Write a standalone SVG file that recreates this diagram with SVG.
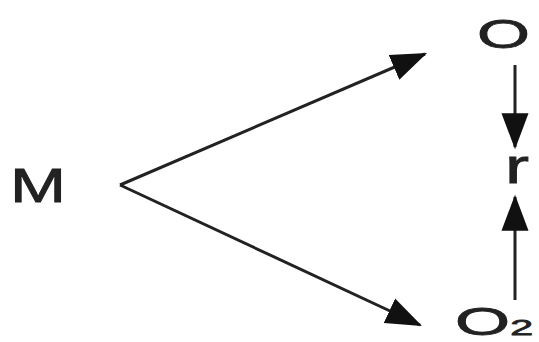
<svg xmlns="http://www.w3.org/2000/svg" width="539" height="342" viewBox="0 0 539 342">
<style>
.lbl{font-family:"Liberation Sans",Arial,sans-serif;fill:#222;stroke:#222;stroke-width:0.8}
.edge{stroke:#222;stroke-width:3;fill:none}
</style>
<defs>
<marker id="ah" markerUnits="userSpaceOnUse" markerWidth="36" markerHeight="36" refX="30" refY="12" orient="auto" viewBox="0 0 32 24">
<path d="M0,0 L32,12 L0,24 Z" fill="#111"/>
</marker>
</defs>
<rect width="539" height="342" fill="#fff"/>
<g id="connectors">
<line class="edge" x1="120" y1="185" x2="425" y2="54" marker-end="url(#ah)"/>
<line class="edge" x1="120" y1="185" x2="420" y2="325" marker-end="url(#ah)"/>
<line class="edge" x1="515" y1="65" x2="515" y2="147" marker-end="url(#ah)"/>
<line class="edge" x1="515" y1="300" x2="515" y2="197" marker-end="url(#ah)"/>
</g>
<g id="node-M"><text class="lbl" x="10" y="202" font-size="48" textLength="56" lengthAdjust="spacingAndGlyphs">M</text></g>
<g id="node-O"><text class="lbl" x="477" y="48" font-size="41" textLength="53" lengthAdjust="spacingAndGlyphs">O</text></g>
<g id="node-r"><text class="lbl" x="505" y="183" font-size="48" textLength="24" lengthAdjust="spacingAndGlyphs">r</text></g>
<g id="node-O2"><text class="lbl" x="455" y="335" font-size="38" textLength="78" lengthAdjust="spacingAndGlyphs">O<tspan font-size="22">2</tspan></text></g>
</svg>
